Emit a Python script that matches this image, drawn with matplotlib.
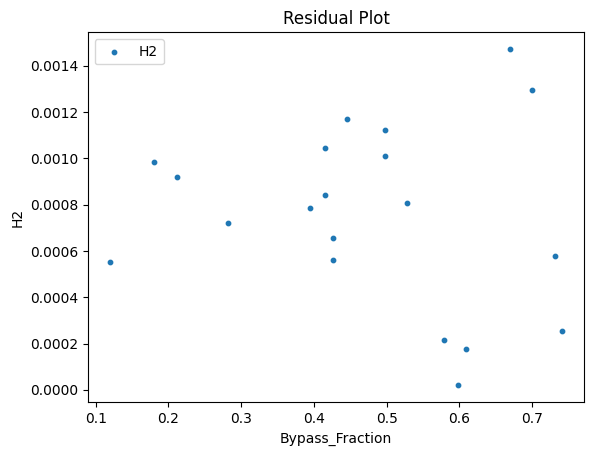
import matplotlib
matplotlib.use("Agg")
import matplotlib.pyplot as plt

# residuals
bypass_fraction = [0.1201, 0.1806, 0.2122, 0.2824,
                   0.4461, 0.4970, 0.4145, 0.4970, 0.4145, 0.3952, 0.5272, 0.4255, 0.4255,
                   0.6689, 0.6992, 0.7308, 0.7405, 0.5781, 0.6084, 0.5974]
h2_residual = [0.000552, 0.000984, 0.000919, 0.000722,
               0.001170, 0.001122, 0.001044, 0.001010, 0.000841, 0.000785, 0.000807, 0.000655, 0.000560,
               0.001472, 0.001295, 0.000578, 0.000254, 0.000215, 0.000176, 0.0000203]

fig = plt.figure(figsize=(5.93, 4.55), dpi=100)
ax = fig.add_axes([87.7 / 593, 1 - 402.1 / 455, (584.3 - 87.7) / 593, (402.1 - 32.4) / 455])

ax.scatter(bypass_fraction, h2_residual, s=10, label="H2")
ax.set_xlabel("Bypass_Fraction")
ax.set_ylabel("H2")
ax.set_title("Residual Plot")
ax.legend(loc="upper left")

fig.savefig("out.png", dpi=100)
